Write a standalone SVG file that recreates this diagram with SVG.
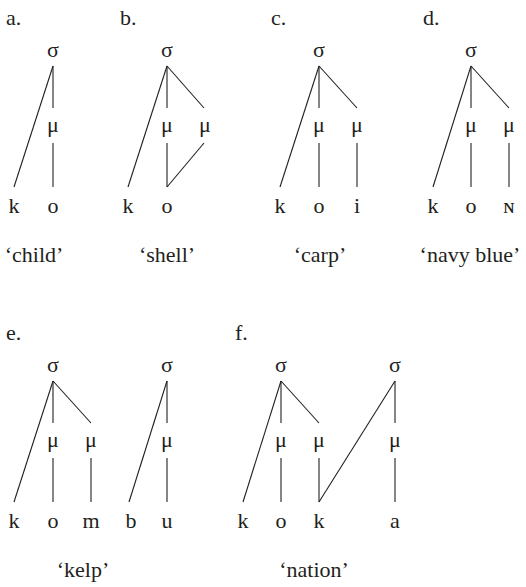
<svg xmlns="http://www.w3.org/2000/svg" width="526" height="587" viewBox="0 0 526 587">
<style>
text{font-family:"Liberation Serif","DejaVu Serif",serif;font-size:22px;fill:#231f20;text-anchor:middle}
text.lab{text-anchor:start}
line{stroke:#231f20;stroke-width:1.1;fill:none}
</style>
<rect width="526" height="587" fill="#fff"/>
<g id="a">
<text class="lab" x="6" y="25">a.</text>
<text x="53" y="57">σ</text>
<text x="53" y="132">μ</text>
<text x="14" y="213">k</text>
<text x="53" y="213">o</text>
<text x="34" y="262">‘child’</text>
</g>
<g id="b">
<text class="lab" x="120" y="25">b.</text>
<text x="167" y="57">σ</text>
<text x="167" y="132">μ</text>
<text x="205" y="132">μ</text>
<text x="128" y="213">k</text>
<text x="167" y="213">o</text>
<text x="167" y="262">‘shell’</text>
</g>
<g id="c">
<text class="lab" x="271" y="25">c.</text>
<text x="319" y="57">σ</text>
<text x="319" y="132">μ</text>
<text x="357" y="132">μ</text>
<text x="280" y="213">k</text>
<text x="319" y="213">o</text>
<text x="357" y="213">i</text>
<text x="320" y="262">‘carp’</text>
</g>
<g id="d">
<text class="lab" x="423" y="25">d.</text>
<text x="471" y="57">σ</text>
<text x="471" y="132">μ</text>
<text x="509" y="132">μ</text>
<text x="433" y="213">k</text>
<text x="471" y="213">o</text>
<text x="509" y="213">ɴ</text>
<text x="470" y="262">‘navy blue’</text>
</g>
<g id="e">
<text class="lab" x="6" y="340">e.</text>
<text x="53" y="372">σ</text>
<text x="167" y="372">σ</text>
<text x="53" y="447">μ</text>
<text x="91" y="447">μ</text>
<text x="167" y="447">μ</text>
<text x="14" y="528">k</text>
<text x="53" y="528">o</text>
<text x="91" y="528">m</text>
<text x="131" y="528">b</text>
<text x="167" y="528">u</text>
<text x="83" y="577">‘kelp’</text>
</g>
<g id="f">
<text class="lab" x="235" y="340">f.</text>
<text x="281" y="372">σ</text>
<text x="395" y="372">σ</text>
<text x="281" y="447">μ</text>
<text x="319" y="447">μ</text>
<text x="395" y="447">μ</text>
<text x="243" y="528">k</text>
<text x="281" y="528">o</text>
<text x="319" y="528">k</text>
<text x="395" y="528">a</text>
<text x="314" y="577">‘nation’</text>
</g>
<g id="connectors">
<line x1="53" y1="66" x2="14" y2="187"/>
<line x1="53" y1="66" x2="53" y2="108"/>
<line x1="53" y1="143" x2="53" y2="187"/>
<line x1="167" y1="66" x2="128" y2="187"/>
<line x1="167" y1="66" x2="167" y2="108"/>
<line x1="167" y1="66" x2="204" y2="108"/>
<line x1="167" y1="143" x2="167" y2="187"/>
<line x1="204" y1="143" x2="167" y2="187"/>
<line x1="319" y1="66" x2="280" y2="187"/>
<line x1="319" y1="66" x2="319" y2="108"/>
<line x1="319" y1="66" x2="357" y2="108"/>
<line x1="319" y1="143" x2="319" y2="187"/>
<line x1="357" y1="143" x2="357" y2="187"/>
<line x1="471" y1="66" x2="433" y2="187"/>
<line x1="471" y1="66" x2="471" y2="108"/>
<line x1="471" y1="66" x2="509" y2="108"/>
<line x1="471" y1="143" x2="471" y2="187"/>
<line x1="509" y1="143" x2="509" y2="187"/>
<line x1="53" y1="381" x2="14" y2="502"/>
<line x1="53" y1="381" x2="53" y2="423"/>
<line x1="53" y1="381" x2="91" y2="423"/>
<line x1="53" y1="458" x2="53" y2="502"/>
<line x1="91" y1="458" x2="91" y2="502"/>
<line x1="167" y1="381" x2="129" y2="502"/>
<line x1="167" y1="381" x2="167" y2="423"/>
<line x1="167" y1="458" x2="167" y2="502"/>
<line x1="281" y1="381" x2="243" y2="502"/>
<line x1="281" y1="381" x2="281" y2="423"/>
<line x1="281" y1="381" x2="319" y2="423"/>
<line x1="281" y1="458" x2="281" y2="502"/>
<line x1="319" y1="458" x2="319" y2="502"/>
<line x1="395" y1="381" x2="319" y2="502"/>
<line x1="395" y1="381" x2="395" y2="423"/>
<line x1="395" y1="458" x2="395" y2="502"/>
</g>
</svg>
